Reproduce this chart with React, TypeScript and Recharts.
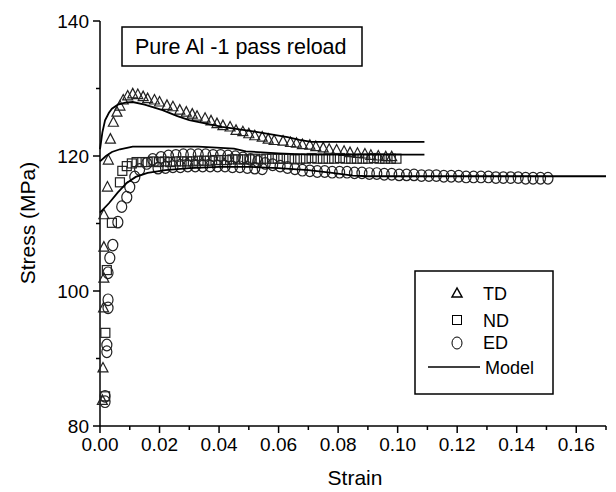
import React from 'react';
import { ScatterChart, Scatter, XAxis, YAxis } from 'recharts';

const FONT = '"Liberation Sans", Arial, Helvetica, sans-serif';

// TD (triangles)
const tdStrain = [0.0008, 0.001, 0.0012, 0.0013, 0.0013, 0.0013, 0.0025, 0.0028, 0.0035, 0.0045, 0.0057, 0.0067, 0.0078, 0.0093, 0.011, 0.0127, 0.0145, 0.016, 0.0183, 0.02, 0.0225, 0.0245, 0.0268, 0.029, 0.031, 0.0326, 0.0353, 0.0373, 0.0393, 0.0413, 0.0437, 0.0457, 0.048, 0.05, 0.052, 0.0545, 0.0565, 0.0585, 0.0615, 0.064, 0.066, 0.068, 0.0705, 0.0725, 0.075, 0.077, 0.0795, 0.082, 0.084, 0.0865, 0.089, 0.091, 0.0935, 0.096, 0.098];
const tdStress = [83.8, 88.6, 97.5, 101.9, 106.5, 111.3, 115.4, 119.4, 122.5, 125.0, 126.5, 127.4, 128.3, 128.9, 129.2, 129.1, 128.8, 128.5, 128.3, 128.0, 127.5, 127.3, 126.8, 126.5, 126.2, 125.9, 125.6, 125.2, 124.8, 124.5, 124.3, 123.8, 123.6, 123.3, 123.0, 122.8, 122.5, 122.3, 122.2, 122.0, 121.9, 121.7, 121.6, 121.4, 121.2, 121.0, 120.9, 120.7, 120.5, 120.4, 120.3, 120.1, 120.0, 119.9, 119.9];

// ND (squares)
const ndStrain = [0.0017, 0.0018, 0.0023, 0.004, 0.0067, 0.0075, 0.009, 0.0107, 0.0123, 0.0142, 0.016, 0.018, 0.0198, 0.0217, 0.0236, 0.0255, 0.0274, 0.0293, 0.0312, 0.0331, 0.035, 0.0369, 0.0388, 0.0407, 0.0426, 0.0445, 0.0464, 0.0483, 0.0502, 0.0521, 0.054, 0.0559, 0.0578, 0.0597, 0.0616, 0.0635, 0.0654, 0.0673, 0.0692, 0.0711, 0.073, 0.0749, 0.0768, 0.0787, 0.0806, 0.0825, 0.0844, 0.0863, 0.0882, 0.0901, 0.092, 0.0939, 0.0958, 0.0977, 0.0996];
const ndStress = [84.4, 93.8, 103.1, 110.1, 116.1, 117.8, 118.5, 118.9, 119.1, 119.1, 119.1, 119.2, 119.1, 119.2, 119.1, 119.2, 119.2, 119.2, 119.2, 119.3, 119.3, 119.3, 119.4, 119.4, 119.4, 119.5, 119.5, 119.5, 119.5, 119.6, 119.5, 119.6, 119.6, 119.6, 119.6, 119.6, 119.5, 119.6, 119.6, 119.7, 119.6, 119.6, 119.6, 119.6, 119.7, 119.6, 119.6, 119.6, 119.6, 119.6, 119.7, 119.6, 119.6, 119.6, 119.6];

// ED (circles)
const edStrain = [0.0017, 0.0017, 0.0023, 0.0023, 0.0027, 0.0027, 0.0027, 0.0033, 0.0043, 0.006, 0.0073, 0.009, 0.01, 0.0117, 0.0133, 0.0157, 0.0177, 0.0205, 0.023, 0.0255, 0.028, 0.0305, 0.033, 0.0355, 0.038, 0.0405, 0.043, 0.0455, 0.048, 0.0505, 0.053, 0.0555, 0.058, 0.0605, 0.063, 0.0655, 0.068, 0.0705, 0.073, 0.0755, 0.078, 0.0805, 0.083, 0.0855, 0.088, 0.0905, 0.093, 0.0955, 0.098, 0.1005, 0.103, 0.1055, 0.108, 0.1105, 0.113, 0.1155, 0.118, 0.1205, 0.123, 0.1255, 0.128, 0.1305, 0.133, 0.1355, 0.138, 0.1405, 0.143, 0.1455, 0.148, 0.1505, 0.0195, 0.022, 0.0245, 0.027, 0.0295, 0.032, 0.0345, 0.037, 0.0395, 0.042, 0.0445, 0.047, 0.0495, 0.052, 0.0545];
const edStress = [83.6, 84.4, 91.0, 92.0, 97.5, 98.7, 102.7, 104.9, 106.8, 110.2, 112.5, 113.9, 115.4, 116.9, 118.0, 118.9, 119.5, 119.8, 120.0, 120.1, 120.2, 120.2, 120.2, 120.2, 120.1, 120.1, 120.0, 119.9, 119.7, 119.5, 119.2, 118.9, 118.7, 118.5, 118.3, 118.1, 117.9, 117.8, 117.7, 117.7, 117.6, 117.6, 117.6, 117.5, 117.5, 117.4, 117.4, 117.3, 117.3, 117.2, 117.2, 117.2, 117.1, 117.1, 117.1, 117.0, 117.0, 117.0, 116.9, 116.9, 116.9, 116.9, 116.8, 116.8, 116.8, 116.8, 116.7, 116.7, 116.7, 116.7, 118.2, 118.3, 118.4, 118.4, 118.5, 118.5, 118.5, 118.5, 118.5, 118.5, 118.4, 118.4, 118.3, 118.2, 118.1];

// Model curves
const tdModelStrain = [0, 0.0008, 0.0017, 0.003, 0.004, 0.006, 0.0085, 0.011, 0.015, 0.021, 0.026, 0.03, 0.041, 0.052, 0.063, 0.067, 0.071, 0.109];
const tdModelStress = [121.0, 123.5, 125.3, 126.4, 127.0, 127.6, 127.9, 128.0, 127.6, 126.8, 125.9, 125.3, 124.3, 123.6, 122.8, 122.4, 122.1, 122.1];
const ndModelStrain = [0, 0.002, 0.004, 0.0067, 0.011, 0.033, 0.045, 0.049, 0.06, 0.07, 0.109];
const ndModelStress = [119.2, 120.0, 120.6, 121.0, 121.4, 121.4, 121.1, 120.7, 120.4, 120.2, 120.2];
const edModelStrain = [0, 0.003, 0.006, 0.009, 0.012, 0.016, 0.022, 0.03, 0.04, 0.05, 0.06, 0.07, 0.078, 0.085, 0.09, 0.17];
const edModelStress = [111.6, 113.0, 114.6, 116.0, 116.9, 117.5, 117.9, 118.2, 118.4, 118.4, 118.2, 117.9, 117.5, 117.1, 117.0, 117.0];

const xTicks = [0, 0.01, 0.02, 0.03, 0.04, 0.05, 0.06, 0.07, 0.08, 0.09, 0.1, 0.11, 0.12, 0.13, 0.14, 0.15, 0.16, 0.17];
const yTicks = [80, 90, 100, 110, 120, 130, 140];
const yLabelTicks = [80, 100, 120, 140];

const zip = (xs: number[], ys: number[]) => xs.map((x, i) => ({ x, y: ys[i] }));

const td = zip(tdStrain, tdStress);
const nd = zip(ndStrain, ndStress);
const ed = zip(edStrain, edStress);
const tdModel = zip(tdModelStrain, tdModelStress);
const ndModel = zip(ndModelStrain, ndModelStress);
const edModel = zip(edModelStrain, edModelStress);

const MK = '#222';
const MW = 1.2;

const Tri = (p: any) => {
  const { cx, cy } = p;
  if (cx == null || cy == null) return <g />;
  return <polygon points={`${cx},${cy - 5.5} ${cx - 5},${cy + 4} ${cx + 5},${cy + 4}`} fill="none" stroke={MK} strokeWidth={MW} />;
};
const Sq = (p: any) => {
  const { cx, cy } = p;
  if (cx == null || cy == null) return <g />;
  return <rect x={cx - 4.5} y={cy - 4.5} width={9} height={9} fill="none" stroke={MK} strokeWidth={MW} />;
};
const Circ = (p: any) => {
  const { cx, cy } = p;
  if (cx == null || cy == null) return <g />;
  return <ellipse cx={cx} cy={cy} rx={5} ry={5.8} fill="none" stroke={MK} strokeWidth={MW} />;
};
const NoShape = () => <g />;

const YTick = (props: any) => {
  const { x, y, payload } = props;
  const v = payload.value;
  const major = yLabelTicks.includes(v);
  return (
    <g>
      <line x1={x - (major ? 7 : 4)} x2={x} y1={y} y2={y} stroke="#000" strokeWidth={1.5} />
      {major && (
        <text x={x - 11} y={y + 7} textAnchor="end" fontSize={19} fontFamily={FONT} fill="#000">
          {v}
        </text>
      )}
    </g>
  );
};

const XTick = (props: any) => {
  const { x, y, payload } = props;
  const v = payload.value;
  const major = Math.round(v * 100) % 2 === 0;
  return (
    <g>
      <line x1={x} x2={x} y1={y} y2={y + (major ? 7 : 4)} stroke="#000" strokeWidth={1.5} />
      {major && (
        <text x={x} y={y + 25} textAnchor="middle" fontSize={19} fontFamily={FONT} fill="#000">
          {v.toFixed(2)}
        </text>
      )}
    </g>
  );
};

export default function App() {
  return (
    <div style={{ position: 'absolute', left: 0, top: 0, width: 616, height: 492, background: '#fff' }}>
      <ScatterChart width={616} height={492} margin={{ top: 21, right: 10, bottom: 0, left: 0 }}>
        <XAxis
          type="number"
          dataKey="x"
          domain={[0, 0.17]}
          ticks={xTicks}
          interval={0}
          tickSize={0}
          tickMargin={0}
          tickLine={false}
          tick={<XTick />}
          height={66}
          axisLine={{ stroke: '#000', strokeWidth: 1.5 }}
        />
        <YAxis
          type="number"
          dataKey="y"
          domain={[80, 140]}
          ticks={yTicks}
          interval={0}
          tickSize={0}
          tickMargin={0}
          tickLine={false}
          tick={<YTick />}
          width={100}
          axisLine={{ stroke: '#000', strokeWidth: 1.5 }}
        />
        <Scatter data={td} shape={Tri} isAnimationActive={false} />
        <Scatter data={nd} shape={Sq} isAnimationActive={false} />
        <Scatter data={ed} shape={Circ} isAnimationActive={false} />
        <Scatter data={tdModel} shape={NoShape} line={{ stroke: '#000', strokeWidth: 1.8 }} lineType="joint" isAnimationActive={false} />
        <Scatter data={ndModel} shape={NoShape} line={{ stroke: '#000', strokeWidth: 1.8 }} lineType="joint" isAnimationActive={false} />
        <Scatter data={edModel} shape={NoShape} line={{ stroke: '#000', strokeWidth: 1.8 }} lineType="joint" isAnimationActive={false} />
      </ScatterChart>
      <svg width={616} height={492} style={{ position: 'absolute', left: 0, top: 0, pointerEvents: 'none' }}>
        <text x={355} y={485} textAnchor="middle" fontSize={21} fontFamily={FONT} fill="#000">Strain</text>
        <text x={35} y={223} textAnchor="middle" fontSize={21} fontFamily={FONT} fill="#000" transform="rotate(-90 35 223)">Stress (MPa)</text>
        <rect x={122} y={27} width={240} height={39} fill="#fff" stroke="#000" strokeWidth={1.5} />
        <text x={135} y={54} fontSize={21.5} fontFamily={FONT} fill="#000">Pure Al -1 pass reload</text>
        <rect x={415} y={271} width={138} height={123} fill="#fff" stroke="#000" strokeWidth={1.5} />
        <polygon points="457,288 452,297 462,297" fill="none" stroke="#000" strokeWidth={1.5} />
        <text x={483} y={300} fontSize={18} fontFamily={FONT} fill="#000">TD</text>
        <rect x={452.5} y={315.5} width={9} height={9} fill="none" stroke="#000" strokeWidth={1} />
        <text x={483} y={327} fontSize={18} fontFamily={FONT} fill="#000">ND</text>
        <ellipse cx={457} cy={343} rx={5} ry={6} fill="none" stroke="#000" strokeWidth={1} />
        <text x={483} y={349} fontSize={18} fontFamily={FONT} fill="#000">ED</text>
        <line x1={428} x2={480} y1={367} y2={367} stroke="#000" strokeWidth={1.5} />
        <text x={485} y={374} fontSize={18} fontFamily={FONT} fill="#000">Model</text>
      </svg>
    </div>
  );
}
